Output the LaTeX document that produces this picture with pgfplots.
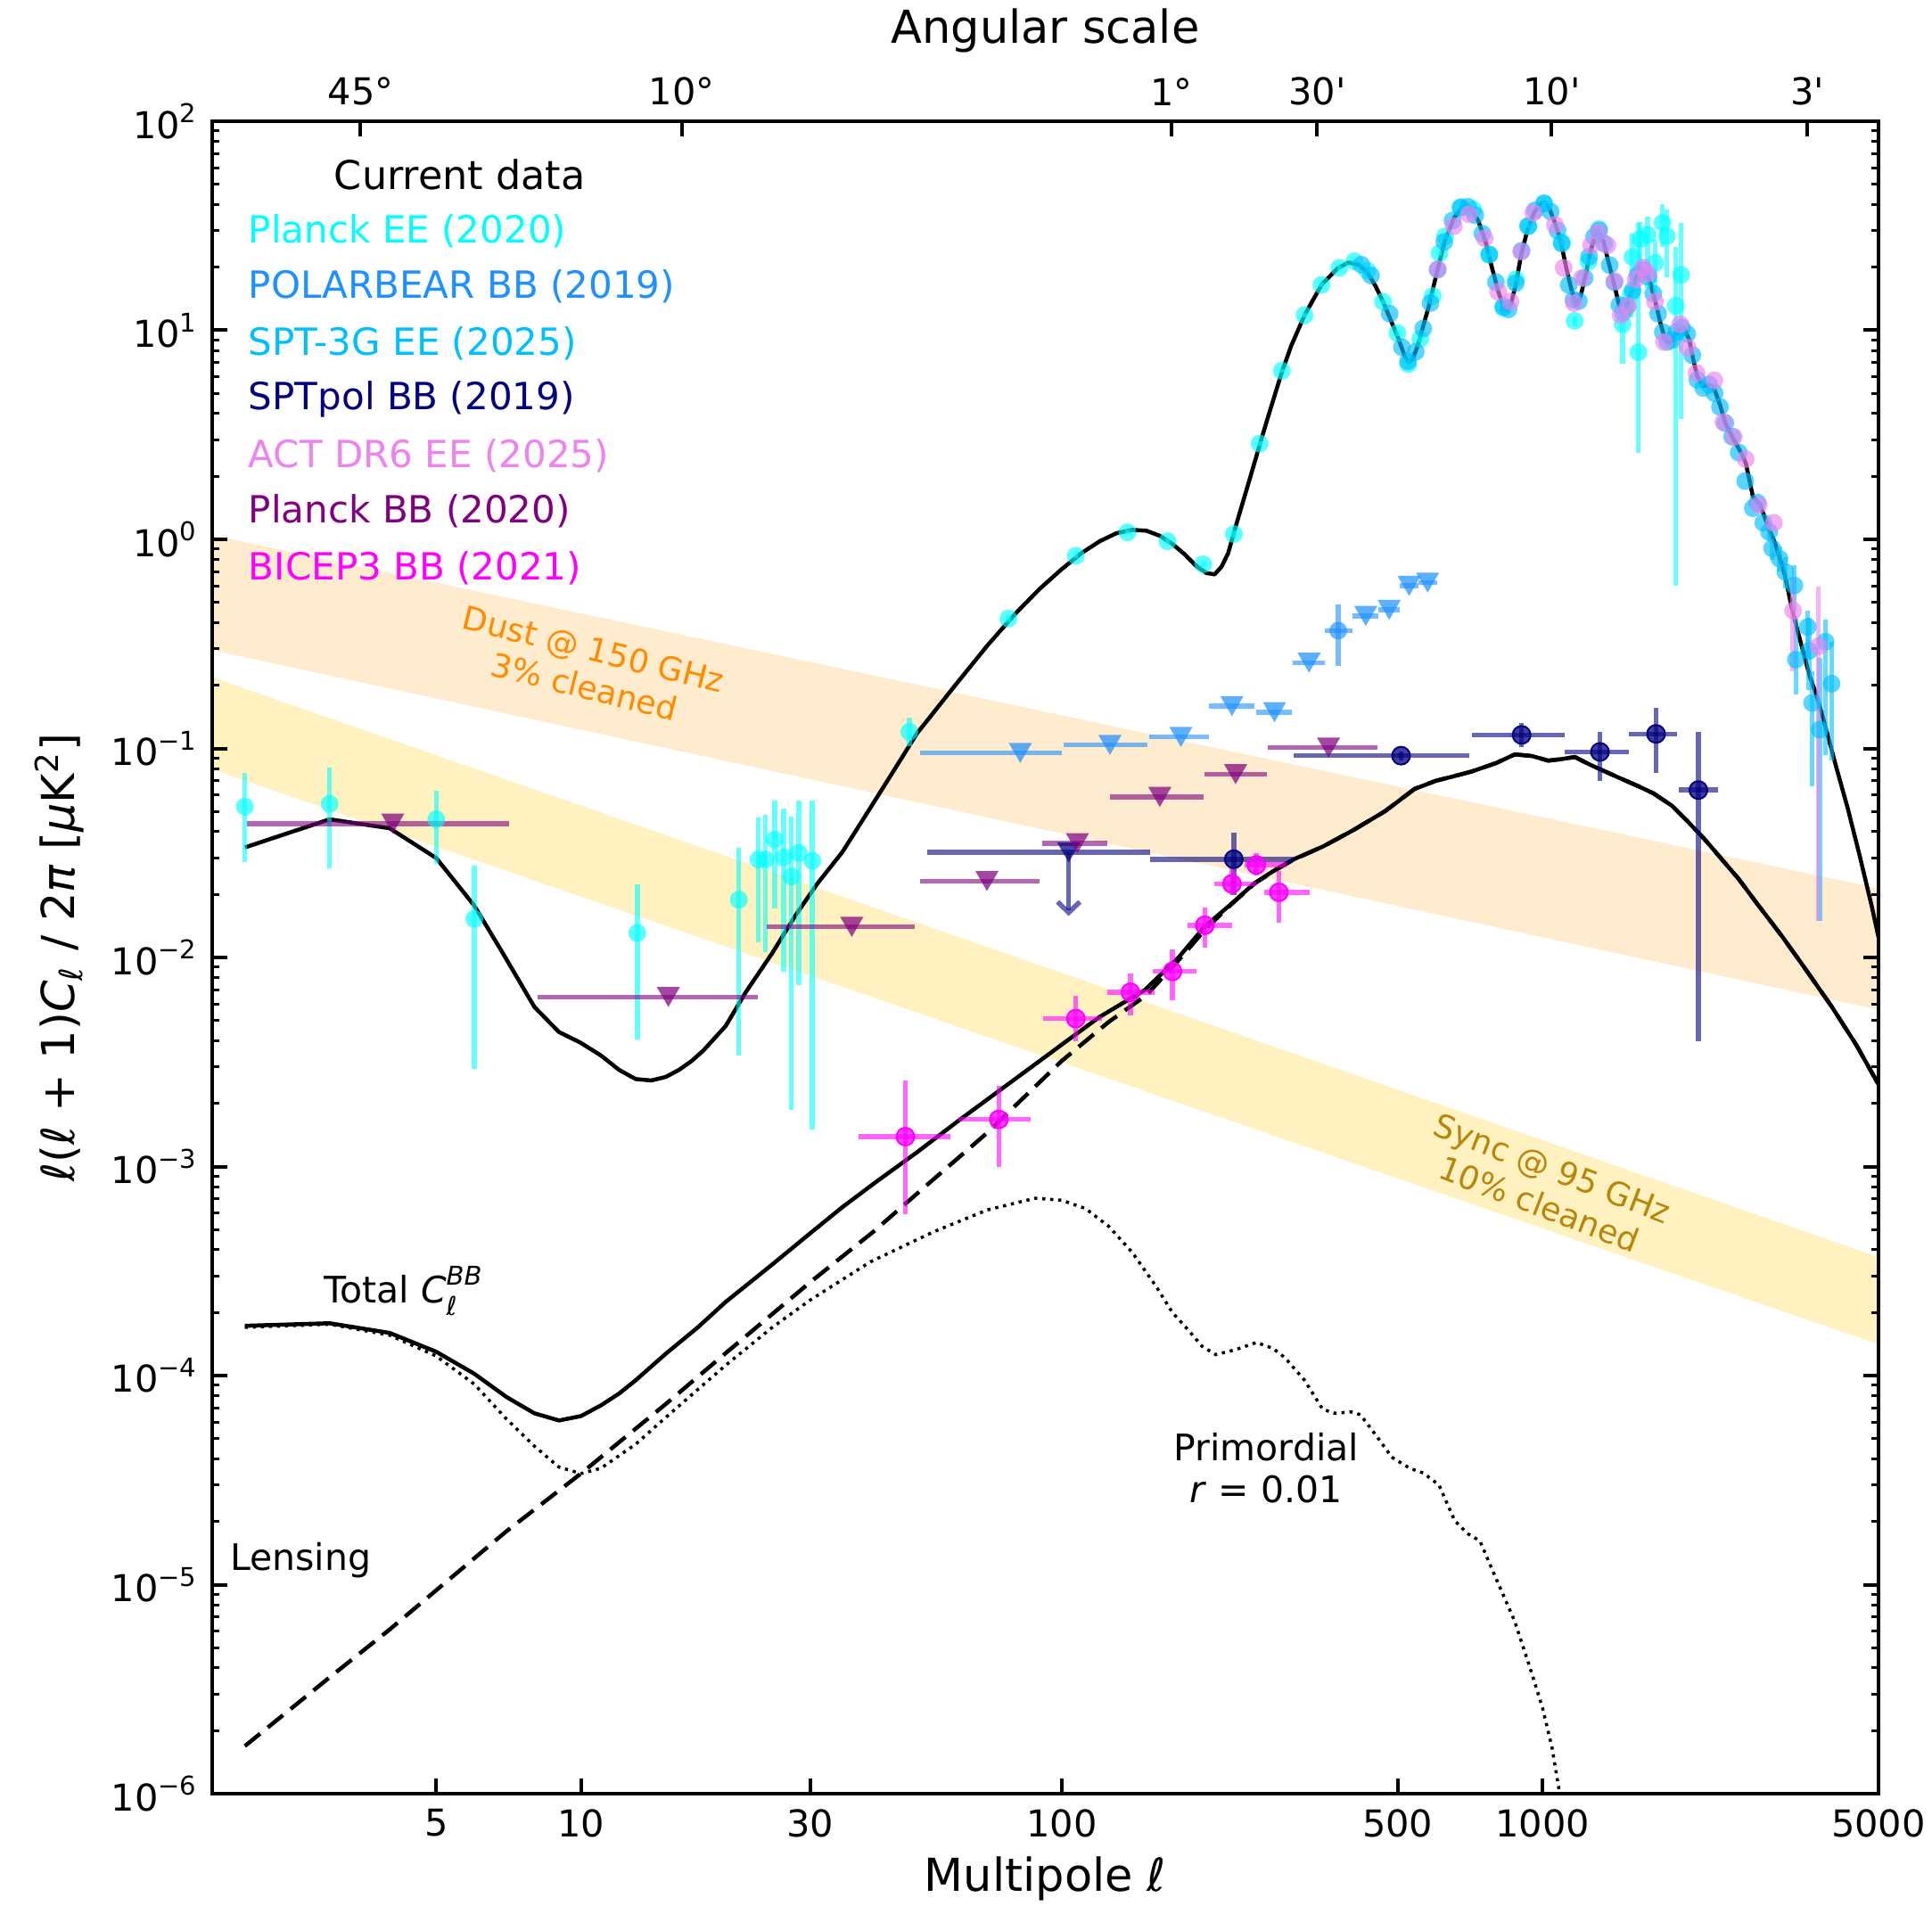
\documentclass[border=0pt]{standalone}
\usepackage{fontspec}
\setmainfont{DejaVu Sans}
\usepackage{pgfplots}
\usepackage{pgfplotstable}
\pgfplotsset{compat=1.18}
\usetikzlibrary{arrows.meta}

\definecolor{cCyan}{RGB}{0,255,255}
\definecolor{cDodger}{RGB}{30,144,255}
\definecolor{cDeepSky}{RGB}{0,191,255}
\definecolor{cNavy}{RGB}{0,0,128}
\definecolor{cViolet}{RGB}{238,130,238}
\definecolor{cPurple}{RGB}{128,0,128}
\definecolor{cMagenta}{RGB}{255,0,255}
\definecolor{cDustFill}{RGB}{255,236,206}
\definecolor{cSyncFill}{RGB}{255,242,192}
\definecolor{cDustText}{RGB}{255,140,0}
\definecolor{cSyncText}{RGB}{184,134,11}

\newcommand{\ftick}{\fontsize{8.3}{10}\selectfont}
\newcommand{\fleg}{\fontsize{8.4}{10}\selectfont}
\newcommand{\flab}{\fontsize{10.2}{12}\selectfont}
\newcommand{\fann}{\fontsize{8.2}{10}\selectfont}
\newcommand{\fband}{\fontsize{7.3}{8.6}\selectfont}
\newcommand{\tsup}[1]{\raisebox{0.42em}{\fontsize{5.8}{6}\selectfont #1}}
\newcommand{\lit}{\textit{ℓ}}

% ---------- theory spectra ----------
\pgfplotstableread{
l D
2 0.0336
3 0.0458
4 0.0415
5 0.0299
6 0.0177
7 0.0098
8 0.0058
9 0.0044
10 0.0039
11 0.0034
12 0.0029
13 0.00262
14 0.00258
15 0.00268
16 0.0029
17 0.0032
18 0.0036
20 0.0047
22 0.0068
25 0.0105
28 0.0160
31 0.0225
35 0.0320
40 0.052
45 0.080
50 0.118
60 0.20
70 0.31
80 0.44
90 0.58
100 0.72
110 0.86
120 0.98
130 1.07
140 1.11
150 1.10
160 1.04
170 0.95
180 0.85
190 0.75
200 0.69
208 0.68
215 0.74
222 0.86
230 1.15
240 1.6
250 2.2
260 3.0
270 4.0
287 6.3
300 8.4
320 11.8
347 16.5
375 19.8
395 21.1
415 20.6
432 19.0
450 16.2
466 13.7
485 11.0
500 9.3
515 7.7
526 7.0
537 7.3
550 8.4
565 10.5
580 13.0
600 18.0
627 27.0
655 34.5
680 38.5
695 39.5
710 38.5
735 33.5
760 27.0
785 20.0
810 15.2
830 13.0
845 12.6
860 13.4
880 16.5
903 23.0
930 30.0
960 36.5
990 40.3
1008 41.0
1030 39.0
1060 33.0
1090 27.0
1120 20.0
1150 15.5
1175 13.2
1200 14.5
1230 18.5
1260 24.0
1290 29.0
1310 29.8
1340 26.5
1370 21.5
1406 17.0
1440 13.5
1465 12.3
1490 12.8
1520 14.5
1560 17.5
1600 19.5
1640 19.0
1680 16.5
1720 13.5
1760 10.8
1800 9.0
1840 8.7
1880 9.3
1930 10.2
1980 10.0
2020 9.0
2060 7.2
2100 6.0
2160 5.4
2220 5.5
2280 5.2
2340 4.4
2400 3.6
2500 3.0
2600 2.55
2650 2.3
2740 1.6
2840 1.45
2960 1.12
3050 0.95
3150 0.75
3200 0.66
3300 0.47
3400 0.36
3500 0.28
3600 0.22
3700 0.185
3800 0.15
3900 0.121
4080 0.082
4315 0.0517
4570 0.0306
4840 0.0176
5000 0.0125
}\eeModel

\pgfplotstableread{
l D
2 1.73e-4
3 1.78e-4
4 1.60e-4
5 1.30e-4
6 1.02e-4
7 7.9e-5
8 6.6e-5
9 6.1e-5
10 6.4e-5
11 7.2e-5
12 8.2e-5
13 9.5e-5
15 1.27e-4
17.5 1.7e-4
20 2.25e-4
25 3.4e-4
30 4.8e-4
35 6.4e-4
40.7 8.3e-4
50 1.17e-3
61.5 1.68e-3
75 2.35e-3
90 3.2e-3
102 3.96e-3
120 5.2e-3
149 7.0e-3
175 1.0e-2
198 1.4e-2
225 1.8e-2
252 2.27e-2
280 2.65e-2
304 2.95e-2
350 3.4e-2
403 4.05e-2
470 5.0e-2
542 6.4e-2
600 7.0e-2
660 7.4e-2
713 7.76e-2
800 8.5e-2
876 9.36e-2
950 9.2e-2
1028 8.74e-2
1100 8.9e-2
1168 9.1e-2
1250 8.4e-2
1349 7.76e-2
1450 7.2e-2
1582 6.6e-2
1700 6.1e-2
1857 5.33e-2
2000 4.5e-2
2178 3.66e-2
2360 2.95e-2
2557 2.38e-2
2800 1.8e-2
3148 1.265e-2
3500 9.0e-3
4000 5.8e-3
4500 3.8e-3
5000 2.47e-3
}\bbTotal

\pgfplotstableread{
l D
2 1.69e-6
3 3.6e-6
4 6.1e-6
5 9.4e-6
7 1.8e-5
10 3.4e-5
15 7.3e-5
20 1.28e-4
30 2.8e-4
40.5 4.86e-4
52.9 8.3e-4
70 1.45e-3
100 3.2e-3
125 4.9e-3
150 6.6e-3
175 9.7e-3
200 1.38e-2
225 1.79e-2
252 2.26e-2
280 2.64e-2
304 2.94e-2
350 3.4e-2
403 4.05e-2
470 5.0e-2
542 6.4e-2
600 7.0e-2
660 7.4e-2
713 7.76e-2
800 8.5e-2
876 9.36e-2
950 9.2e-2
1028 8.74e-2
1100 8.9e-2
1168 9.1e-2
1250 8.4e-2
1349 7.76e-2
1450 7.2e-2
1582 6.6e-2
1700 6.1e-2
1857 5.33e-2
2000 4.5e-2
2178 3.66e-2
2360 2.95e-2
2557 2.38e-2
2800 1.8e-2
3148 1.265e-2
3500 9.0e-3
4000 5.8e-3
4500 3.8e-3
5000 2.47e-3
}\bbLens

\pgfplotstableread{
l D
2 1.70e-4
3 1.76e-4
4 1.56e-4
5 1.24e-4
6 9.1e-5
7 6.2e-5
8 4.6e-5
9 3.65e-5
10 3.4e-5
11 3.6e-5
13 4.7e-5
15 6.3e-5
20 1.12e-4
25 1.7e-4
30 2.3e-4
40 3.5e-4
54 4.86e-4
70 6.2e-4
88 7.05e-4
100 6.9e-4
112 6.3e-4
125 5.2e-4
140 3.9e-4
157 2.68e-4
170 2.0e-4
183 1.66e-4
196 1.38e-4
209 1.26e-4
230 1.33e-4
254 1.44e-4
275 1.35e-4
291 1.22e-4
320 9.5e-5
349 6.9e-5
370 6.6e-5
400 6.7e-5
418 6.5e-5
450 5.2e-5
486 4.07e-5
530 3.6e-5
565 3.42e-5
609 3.0e-5
657 2.02e-5
700 1.75e-5
741 1.62e-5
798 1.09e-5
874 6.75e-6
942 4.0e-6
1000 2.58e-6
1047 1.66e-6
1090 9.5e-7
}\bbPrim

% ---------- measurements ----------
\pgfplotstableread{
l D lo hi
2 0.0526 0.0285 0.076
3 0.0543 0.0267 0.0813
5 0.0458 0.028 0.0625
6 0.0153 0.00293 0.0276
13.1 0.0131 0.00404 0.0223
21.3 0.0189 0.0034 0.0336
23.4 0.0294 0.0118 0.0466
24.2 0.0294 0.01057 0.0481
25.3 0.0366 0.0171 0.0561
26.4 0.0301 0.00855 0.0517
27.4 0.0244 0.00187 0.0473
28.4 0.0316 0.00738 0.0561
30.3 0.029 0.00151 0.0561
48.2 0.12 0.102 0.14
77.5 0.418 0.40 0.436
107 0.835 0.81 0.86
137 1.08 1.05 1.11
166 0.98 0.95 1.01
197 0.76 0.73 0.79
228 1.06 1.02 1.10
258 2.87 2.8 2.95
287 6.4 6.25 6.55
320 11.8 11.5 12.1
347 16.5 16.1 16.9
378 19.9 19.4 20.4
406 21.4 20.9 21.9
432 19.3 18.8 19.8
466 13.7 13.3 14.1
499 9.7 9.4 10.0
526 6.9 6.6 7.2
557 9.1 8.8 9.4
591 14.6 14.2 15.0
611 23.4 22.8 24.0
627 28.1 27.4 28.8
677 38.9 38.0 39.8
718 37.8 37.0 38.6
775 23.1 22.5 23.7
829 12.8 12.4 13.2
880 17.5 17.0 18.0
934 31.5 30.7 32.3
1008 40.3 39.3 41.3
1097 26.3 25.5 27.1
1167 11.1 10.5 11.7
1246 21.3 20.5 22.1
1311 30.5 29.3 31.7
1468 10.7 6.9 14.4
1528 14.9 11.5 19.0
1539 22.4 15.0 29.0
1583 7.86 2.58 32.7
1597 27.3 20.0 33.0
1655 28.6 16.0 35.0
1715 21.0 15.0 27.0
1777 32.7 25.0 40.0
1815 28.2 18.0 38.0
1894 13.1 0.602 25.1
1943 18.4 3.77 32.7
}\planckEE

\pgfplotstableread{
l D
420 20.6
440 18.3
481 12.0
510 8.3
525 7.1
545 7.9
565 10.2
585 13.5
605 19.5
625 26.5
650 33.5
675 38.6
700 39.0
725 35.5
750 29.0
775 23.0
800 17.0
829 13.0
850 12.6
880 16.8
905 24.0
934 31.5
965 37.5
1008 40.5
1040 37.0
1075 30.0
1097 26.0
1134 16.5
1160 14.0
1190 13.8
1224 17.8
1250 22.5
1280 28.0
1311 30.0
1345 26.0
1380 20.5
1410 17.0
1445 13.2
1470 12.2
1500 13.0
1540 15.5
1580 18.5
1620 19.5
1660 18.0
1700 15.0
1740 12.0
1780 9.8
1820 8.8
1860 9.0
1900 9.8
1950 10.3
2000 9.6
2050 7.6
2100 5.8
2160 5.3
2220 5.5
2280 5.0
2340 4.3
2400 3.6
2480 3.1
2560 2.6
2640 1.9
2739 1.41
2800 1.5
2880 1.2
}\sptEE

\pgfplotstableread{
l D lo hi
2961 1.085 0.98 1.19
3004 0.906 0.80 1.01
3112 0.808 0.70 0.92
3201 0.698 0.58 0.82
3342 0.602 0.45 0.75
3366 0.266 0.182 0.42
3562 0.381 0.27 0.456
3587 0.293 0.19 0.42
3639 0.165 0.066 0.233
3771 0.123 0.0149 0.27
3880 0.324 0.0933 0.413
3994 0.204 0.0873 0.324
}\sptEEtail

\pgfplotstableread{
l D
606 19.6
654 31.5
703 35.9
758 27.6
809 15.3
858 13.7
903 23.8
957 36.5
1061 32.0
1107 19.9
1163 13.5
1209 17.8
1262 25.5
1308 29.6
1365 25.5
1414 17.2
1455 11.8
1507 13.1
1562 17.5
1618 20.0
1655 18.7
1715 13.7
1789 8.8
1934 10.7
2004 8.26
2092 6.25
2278 5.76
2378 3.64
2500 3.09
2646 2.42
2818 1.46
3028 1.2
}\actEE

\pgfplotstableread{
l D lo hi
3322 0.456 0.233 0.653
3747 0.308 0.0149 0.593
}\actEEtail

\pgfplotstableread{
l D lmin lmax
4.06 0.0437 2.02 7.08
15.2 0.00647 8.13 23.3
36.6 0.014 24.3 49.5
69.9 0.0232 50.8 89.9
107.8 0.0352 91.2 124.5
160 0.0586 126 197
230 0.0753 198 267
359 0.1008 268 453
}\planckBB

\pgfplotstableread{
l D lmin lmax
82 0.0951 50.8 100
126 0.1039 101 151
177 0.1135 152 202
226 0.1594 202 252
277 0.149 254 301
327 0.257 302 353
429 0.43 403 456
480 0.46 456 504
528 0.599 504 553
577 0.621 553 604
}\pbLim

\pgfplotstableread{
l D lmin lmax lo hi
376 0.366 353 402 0.248 0.488
}\pbDet

\pgfplotstableread{
l D lmin lmax lo hi
228 0.0295 153 304 0.0199 0.0394
508 0.0923 304 703 0.088 0.097
905 0.116 712 1110 0.1014 0.1327
1317 0.0962 1112 1510 0.0697 0.1205
1723 0.1173 1514 1901 0.0767 0.156
2110 0.0632 1924 2315 0.00397 0.1205
}\sptpolBB

\pgfplotstableread{
l D lmin lmax
103.4 0.0318 52.5 152.4
}\sptpolLim

\pgfplotstableread{
l D lmin lmax lo hi
47.3 1.39e-3 37.8 58.8 5.93e-4 2.57e-3
74.0 1.68e-3 61.0 86.3 9.95e-4 2.44e-3
107 5.1e-3 91.6 121 3.96e-3 6.58e-3
139 6.82e-3 124.5 156 5.29e-3 8.4e-3
170 8.58e-3 154.5 191 6.25e-3 1.094e-2
198.5 1.426e-2 182.5 226 1.11e-2 1.726e-2
226 2.25e-2 208 254 1.99e-2 2.71e-2
254 2.77e-2 240 293 2.48e-2 3.16e-2
283 2.05e-2 264 328 1.46e-2 2.59e-2
}\bicepBB

% marker styles: filled, translucent, no outline
\pgfplotsset{
  dot/.style={only marks, mark=*, mark size=2pt, color=#1,
    mark options={draw=#1, fill=#1, draw opacity=0, fill opacity=0.65}},
  tri/.style={only marks, mark=triangle*, mark size=3pt, color=#1,
    mark options={yshift=0.75pt, rotate=180, draw=#1, fill=#1, draw opacity=0, fill opacity=0.72}},
}

\begin{document}
\begin{tikzpicture}
\useasboundingbox (-47.6pt,-25.2pt) rectangle (385.8pt,402.4pt);
\begin{axis}[
  at={(0pt,0pt)}, anchor=south west,
  scale only axis, width=373.8pt, height=375.2pt,
  xmode=log, ymode=log,
  xmin=1.71, xmax=5000, ymin=1e-6, ymax=1e2,
  tick align=inside,
  major tick length=3.4pt, minor tick length=1.7pt,
  every major tick/.append style={line width=0.8pt, black},
  every minor tick/.append style={line width=0.6pt, black},
  axis line style={line width=0.8pt},
  ticklabel style={font=\ftick},
  xminorticks=false,
  axis on top,
  xtick={5,10,30,100,500,1000,5000},
  xticklabels={5,10,30,100,500,1000,5000},
  xtick pos=left,
  ytick={1e-6,1e-5,1e-4,1e-3,1e-2,1e-1,1,10,100},
  yticklabels={10\tsup{−6},10\tsup{−5},10\tsup{−4},10\tsup{−3},10\tsup{−2},10\tsup{−1},10\tsup{0},10\tsup{1},10\tsup{2}},
  minor ytick={2e-6,3e-6,4e-6,5e-6,6e-6,7e-6,8e-6,9e-6,
    2e-5,3e-5,4e-5,5e-5,6e-5,7e-5,8e-5,9e-5,
    2e-4,3e-4,4e-4,5e-4,6e-4,7e-4,8e-4,9e-4,
    2e-3,3e-3,4e-3,5e-3,6e-3,7e-3,8e-3,9e-3,
    2e-2,3e-2,4e-2,5e-2,6e-2,7e-2,8e-2,9e-2,
    0.2,0.3,0.4,0.5,0.6,0.7,0.8,0.9,
    2,3,4,5,6,7,8,9,20,30,40,50,60,70,80,90},
  xlabel={Multipole \lit},
  xlabel style={font=\flab, at={(axis description cs:0.5,-0.0506)}, anchor=center},
  ylabel={\lit(\lit\ + 1)\textit{C}\textsubscript{\lit} / 2\textit{π} [\textit{μ}K\textsuperscript{2}]},
  ylabel style={font=\flab, at={(axis description cs:-0.0918,0.5)}, anchor=center},
]
% foreground bands: dust and synchrotron residuals
\addplot[draw=none, fill=cDustFill] coordinates {(1.71,1.047) (5000,0.0214) (5000,0.00562) (1.71,0.295)};
\addplot[draw=none, fill=cSyncFill] coordinates {(1.71,0.219) (5000,3.69e-4) (5000,1.41e-4) (1.71,0.0794)};

% theory curves
\addplot[black, line width=0.9pt, line join=round] table[x=l,y=D]{\eeModel};
\addplot[black, line width=0.9pt, dash pattern=on 4.4pt off 2.2pt] table[x=l,y=D]{\bbLens};
\addplot[black, line width=0.7pt, dash pattern=on 0.7pt off 1.1pt] table[x=l,y=D]{\bbPrim};
\addplot[black, line width=0.9pt, line join=round] table[x=l,y=D]{\bbTotal};

% Planck EE
\addplot[dot=cCyan,
  error bars/.cd, y dir=both, y explicit, error mark=none,
  error bar style={line width=1.1pt, cCyan, opacity=0.6}]
  table[x=l, y=D, y error plus expr=\thisrow{hi}-\thisrow{D}, y error minus expr=\thisrow{D}-\thisrow{lo}]{\planckEE};
% POLARBEAR BB
\addplot[tri=cDodger,
  error bars/.cd, x dir=both, x explicit, error mark=none,
  error bar style={line width=1.1pt, cDodger, opacity=0.6}]
  table[x=l, y=D, x error plus expr=\thisrow{lmax}-\thisrow{l}, x error minus expr=\thisrow{l}-\thisrow{lmin}]{\pbLim};
\addplot[dot=cDodger,
  error bars/.cd, x dir=both, x explicit, y dir=both, y explicit, error mark=none,
  error bar style={line width=1.1pt, cDodger, opacity=0.6}]
  table[x=l, y=D, x error plus expr=\thisrow{lmax}-\thisrow{l}, x error minus expr=\thisrow{l}-\thisrow{lmin},
        y error plus expr=\thisrow{hi}-\thisrow{D}, y error minus expr=\thisrow{D}-\thisrow{lo}]{\pbDet};
% SPT-3G EE
\addplot[dot=cDeepSky] table[x=l, y=D]{\sptEE};
\addplot[dot=cDeepSky,
  error bars/.cd, y dir=both, y explicit, error mark=none,
  error bar style={line width=1.1pt, cDeepSky, opacity=0.6}]
  table[x=l, y=D, y error plus expr=\thisrow{hi}-\thisrow{D}, y error minus expr=\thisrow{D}-\thisrow{lo}]{\sptEEtail};
% SPTpol BB
\addplot[dot=cNavy, mark options={fill opacity=0.75},
  error bars/.cd, x dir=both, x explicit, y dir=both, y explicit, error mark=none,
  error bar style={line width=1.1pt, cNavy, opacity=0.6}]
  table[x=l, y=D, x error plus expr=\thisrow{lmax}-\thisrow{l}, x error minus expr=\thisrow{l}-\thisrow{lmin},
        y error plus expr=\thisrow{hi}-\thisrow{D}, y error minus expr=\thisrow{D}-\thisrow{lo}]{\sptpolBB};
\addplot[tri=cNavy,
  error bars/.cd, x dir=both, x explicit, error mark=none,
  error bar style={line width=1.1pt, cNavy, opacity=0.6}]
  table[x=l, y=D, x error plus expr=\thisrow{lmax}-\thisrow{l}, x error minus expr=\thisrow{l}-\thisrow{lmin}]{\sptpolLim};
\addplot[cNavy, opacity=0.6, line width=1.1pt, -{Straight Barb[length=2.4pt,width=5pt]}] coordinates {(103.4,0.0318) (103.4,0.0158)};
% ACT DR6 EE
\addplot[dot=cViolet] table[x=l, y=D]{\actEE};
\addplot[dot=cViolet,
  error bars/.cd, y dir=both, y explicit, error mark=none,
  error bar style={line width=1.1pt, cViolet, opacity=0.6}]
  table[x=l, y=D, y error plus expr=\thisrow{hi}-\thisrow{D}, y error minus expr=\thisrow{D}-\thisrow{lo}]{\actEEtail};
% Planck BB
\addplot[tri=cPurple,
  error bars/.cd, x dir=both, x explicit, error mark=none,
  error bar style={line width=1.1pt, cPurple, opacity=0.6}]
  table[x=l, y=D, x error plus expr=\thisrow{lmax}-\thisrow{l}, x error minus expr=\thisrow{l}-\thisrow{lmin}]{\planckBB};
% BICEP3 BB
\addplot[dot=cMagenta, mark options={fill opacity=0.75},
  error bars/.cd, x dir=both, x explicit, y dir=both, y explicit, error mark=none,
  error bar style={line width=1.1pt, cMagenta, opacity=0.6}]
  table[x=l, y=D, x error plus expr=\thisrow{lmax}-\thisrow{l}, x error minus expr=\thisrow{l}-\thisrow{lmin},
        y error plus expr=\thisrow{hi}-\thisrow{D}, y error minus expr=\thisrow{D}-\thisrow{lo}]{\bicepBB};

% data labels
\node[inner sep=0pt, font=\fontsize{8.9}{10}\selectfont] at (rel axis cs:0.1486,0.968) {Current data};
\node[inner sep=0pt, anchor=west, font=\fleg, text=cCyan]    at (rel axis cs:0.0214,0.934) {Planck EE (2020)};
\node[inner sep=0pt, anchor=west, font=\fleg, text=cDodger]  at (rel axis cs:0.0214,0.901) {POLARBEAR BB (2019)};
\node[inner sep=0pt, anchor=west, font=\fleg, text=cDeepSky] at (rel axis cs:0.0214,0.867) {SPT-3G EE (2025)};
\node[inner sep=0pt, anchor=west, font=\fleg, text=cNavy]    at (rel axis cs:0.0214,0.834) {SPTpol BB (2019)};
\node[inner sep=0pt, anchor=west, font=\fleg, text=cViolet]  at (rel axis cs:0.0214,0.800) {ACT DR6 EE (2025)};
\node[inner sep=0pt, anchor=west, font=\fleg, text=cPurple]  at (rel axis cs:0.0214,0.767) {Planck BB (2020)};
\node[inner sep=0pt, anchor=west, font=\fleg, text=cMagenta] at (rel axis cs:0.0214,0.733) {BICEP3 BB (2021)};

% curve annotations
\node[inner sep=0pt, anchor=base west, font=\fann] at (rel axis cs:0.0665,0.2932)
  {Total \textit{C}\rlap{\raisebox{-0.32em}{\fontsize{5.8}{6}\selectfont\itshape ℓ}}\raisebox{0.5em}{\fontsize{5.8}{6}\selectfont\itshape BB}};
\node[inner sep=0pt, anchor=base west, font=\fann] at (rel axis cs:0.0102,0.1334) {Lensing};
\node[inner sep=0pt, anchor=base, font=\fann] at (rel axis cs:0.6326,0.1989) {Primordial};
\node[inner sep=0pt, anchor=base, font=\fann] at (rel axis cs:0.6326,0.1739) {\textit{r} = 0.01};

% foreground annotations
\node[inner sep=0pt, align=center, rotate=-14, font=\fband, text=cDustText] at (rel axis cs:0.2262,0.6731) {Dust @ 150 GHz\\3\% cleaned};
\node[inner sep=0pt, align=center, rotate=-21, font=\fband, text=cSyncText] at (rel axis cs:0.8004,0.3632) {Sync @ 95 GHz\\10\% cleaned};
\end{axis}

% angular scale along the top edge
\begin{axis}[
  at={(0pt,0pt)}, anchor=south west,
  scale only axis, width=373.8pt, height=375.2pt,
  xmode=log, ymode=log,
  xmin=1.71, xmax=5000, ymin=1e-6, ymax=1e2,
  axis x line*=top, axis y line=none,
  tick align=inside,
  major tick length=3.4pt,
  every major tick/.append style={line width=0.8pt, black},
  axis line style={line width=0.8pt},
  ticklabel style={font=\ftick},
  xminorticks=false,
  xtick={3.48,16.2,169,340,1045,3556},
  xticklabels={45°,10°,1°,30\textquotesingle,10\textquotesingle,3\textquotesingle},
  xlabel={Angular scale},
  xlabel style={font=\flab, at={(axis description cs:0.5,1.054)}, anchor=center},
]
\addplot[draw=none] coordinates {(10,1)};
\end{axis}
\end{tikzpicture}
\end{document}
